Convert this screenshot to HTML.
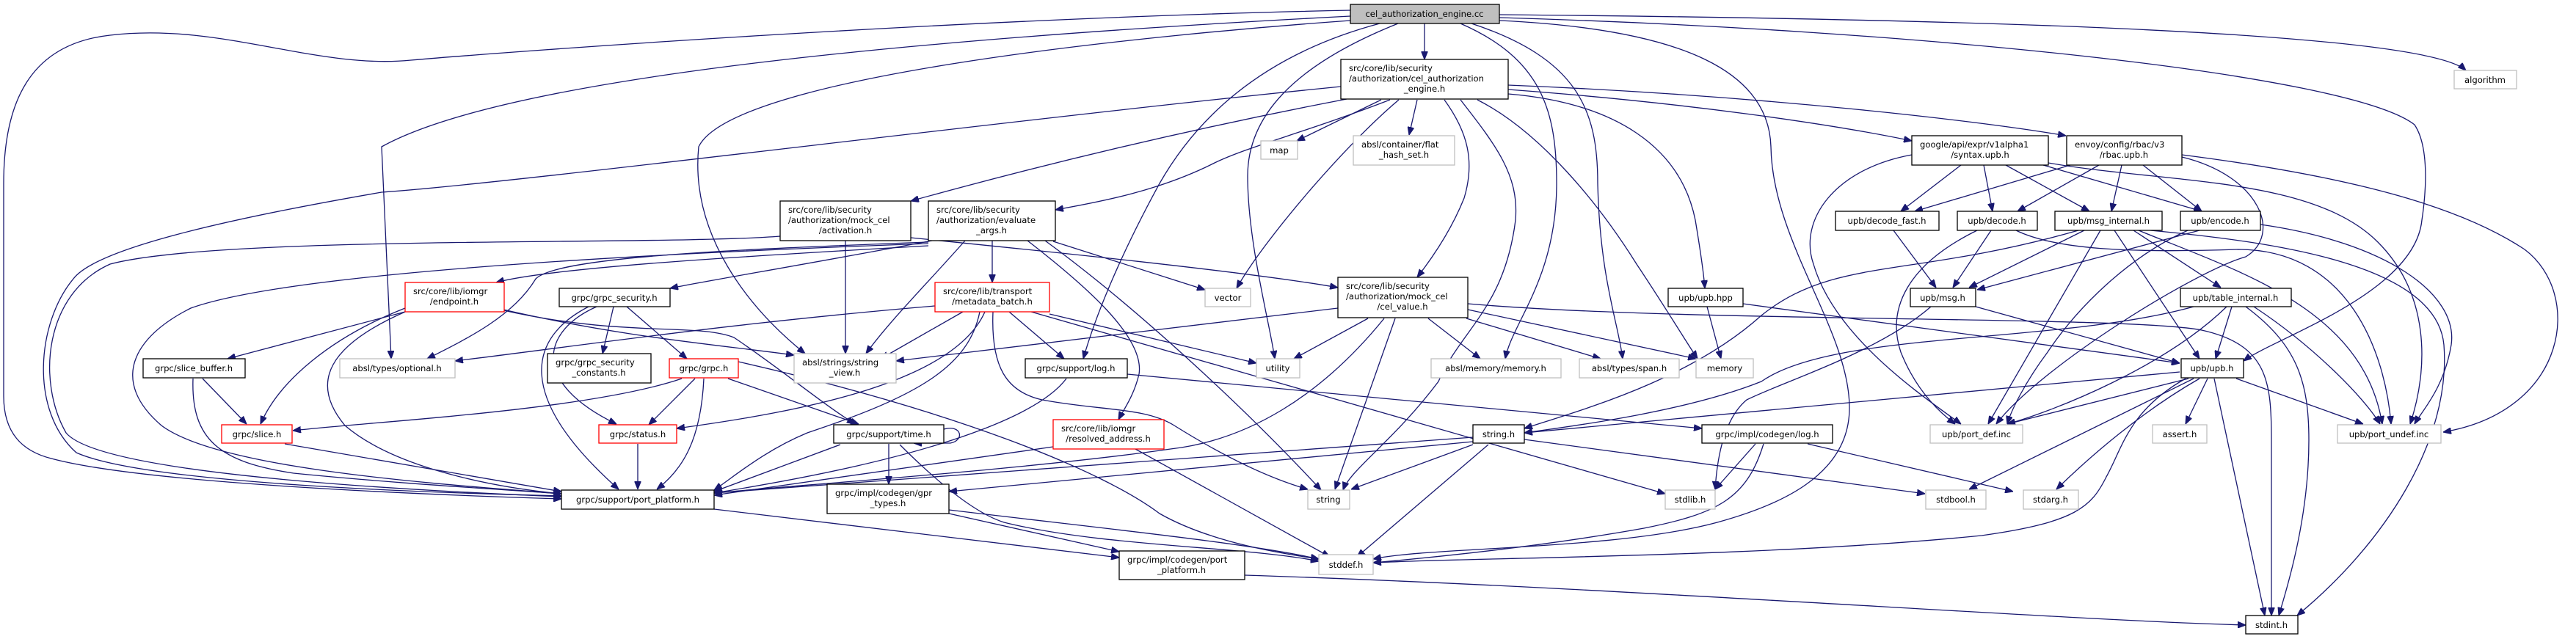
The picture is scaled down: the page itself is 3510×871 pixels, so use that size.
<!DOCTYPE html>
<html><head><meta charset="utf-8"><style>
html,body{margin:0;padding:0;background:#fff;}
svg{display:block;}
text{font-family:"DejaVu Sans","Liberation Sans",sans-serif;font-size:11.6px;fill:#000;}
.e{fill:none;stroke:#191970;stroke-width:1.3;marker-end:url(#a);}
.n{fill:#fff;stroke:#000;stroke-width:1.3;}
.g{fill:#fff;stroke:#bfbfbf;stroke-width:1.3;}
.r{fill:#fff;stroke:#ff0000;stroke-width:1.3;}
.c{text-anchor:middle;}
</style></head><body>
<svg width="3510" height="871" viewBox="0 0 3510 871" xmlns="http://www.w3.org/2000/svg">
<defs><marker id="a" viewBox="0 0 10 8" refX="10" refY="4" markerWidth="11" markerHeight="9" markerUnits="userSpaceOnUse" orient="auto"><path d="M0,0 L10,4 L0,8 z" fill="#191970" stroke="#191970"/></marker></defs>
<rect width="3510" height="871" fill="#fff"/>
<g>
<!-- cel.cc edges -->
<path class="e" d="M1840,14 C1300,25 700,70 560,82 C430,95 300,30 150,48 C40,60 5,140 5,250 L5,540 C5,590 30,615 70,625 C200,660 600,675 765,680"/>
<path class="e" d="M1840,22 C1300,50 700,100 520,200 L533,489"/>
<path class="e" d="M1840,28 C1600,45 1000,100 952,200 C940,320 1020,420 1097,482"/>
<path class="e" d="M1880,32 C1700,80 1620,180 1580,250 C1520,360 1490,440 1476,489"/>
<path class="e" d="M1905,32 C1760,90 1700,160 1700,240 C1700,330 1730,440 1737,489"/>
<path class="e" d="M1941,32 L1941,81"/>
<path class="e" d="M1990,32 C2100,80 2121,150 2121,250 C2121,380 2060,440 2051,489"/>
<path class="e" d="M2005,32 C2150,80 2177,150 2177,250 C2180,380 2205,440 2211,489"/>
<path class="e" d="M2043,28 C2300,40 2410,100 2413,200 C2415,330 2520,450 2520,556 C2520,650 2420,690 2340,712 C2200,750 1950,745 1871,762"/>
<path class="e" d="M2043,24 C2600,40 3200,100 3290,170 C3310,200 3306,260 3300,300 C3290,400 3100,460 3057,492"/>
<path class="e" d="M2043,20 C2600,25 3300,40 3360,96"/>
<!-- engine.h edges -->
<path class="e" d="M1827,118 C1400,160 700,250 520,262 C300,300 130,340 100,380 C50,440 40,560 104,617 C200,660 600,672 765,676"/>
<path class="e" d="M1835,135 C1600,180 1400,230 1241,274"/>
<path class="e" d="M1894,136 C1780,180 1700,200 1655,222 C1580,260 1500,275 1438,286"/>
<path class="e" d="M1882,136 L1767,192"/>
<path class="e" d="M1931,136 L1920,184"/>
<path class="e" d="M1906,136 C1830,200 1720,330 1685,393"/>
<path class="e" d="M1968,136 C2000,180 2010,220 1995,270 C1975,320 1945,360 1931,378"/>
<path class="e" d="M1990,136 C2040,200 2070,240 2065,300 C2050,420 1990,450 1960,520 C1900,600 1840,640 1830,668"/>
<path class="e" d="M2013,136 C2100,180 2180,280 2230,360 C2270,420 2300,470 2313,489"/>
<path class="e" d="M2055,128 C2200,140 2290,200 2310,300 C2320,360 2322,380 2323,393"/>
<path class="e" d="M2055,122 C2300,140 2500,170 2605,192"/>
<path class="e" d="M2055,116 C2400,130 2700,165 2815,185"/>
<!-- activation -->
<path class="e" d="M1152,328 L1152,482"/>
<path class="e" d="M1063,322 C900,335 300,320 150,360 C60,400 50,520 90,590 C140,650 600,670 765,677"/>
<path class="e" d="M1241,324 C1400,340 1700,370 1823,392"/>
<!-- evaluate_args -->
<path class="e" d="M1352,328 L1352,385"/>
<path class="e" d="M1265,335 C1000,350 750,365 676,385"/>
<path class="e" d="M1270,328 C1100,360 950,385 913,393"/>
<path class="e" d="M1265,330 C1000,340 760,350 730,380 C700,430 640,460 582,489"/>
<path class="e" d="M1315,328 C1260,390 1210,440 1180,482"/>
<path class="e" d="M1265,332 C900,345 400,370 260,420 C180,460 150,520 220,580 C300,640 600,660 765,673"/>
<path class="e" d="M1435,329 L1642,395"/>
<path class="e" d="M1424,328 C1550,420 1700,560 1800,668"/>
<path class="e" d="M1400,328 C1480,390 1560,460 1552,510 C1545,540 1530,560 1524,572"/>
<!-- endpoint -->
<path class="e" d="M552,425 L310,489"/>
<path class="e" d="M552,420 C450,460 380,520 355,578"/>
<path class="e" d="M552,425 C450,470 420,520 470,580 C540,640 680,665 765,673"/>
<path class="e" d="M686,422 C850,460 980,470 1082,484"/>
<path class="e" d="M686,423 C850,460 950,440 1000,460 C1060,500 1120,550 1165,578"/>
<!-- grpc_security -->
<path class="e" d="M836,418 L821,482"/>
<path class="e" d="M854,418 L936,489"/>
<path class="e" d="M813,418 C740,450 720,520 840,578"/>
<path class="e" d="M802,418 C720,460 700,540 843,667"/>
<!-- grpc.h -->
<path class="e" d="M929,516 C800,560 500,575 399,587"/>
<path class="e" d="M947,516 L884,579"/>
<path class="e" d="M959,516 C955,600 930,640 895,667"/>
<path class="e" d="M992,516 L1170,578"/>
<path class="e" d="M1006,493 C1300,560 1500,640 1580,700 C1650,740 1750,755 1797,762"/>
<!-- slice_buffer/slice/status/time -->
<path class="e" d="M276,516 L336,578"/>
<path class="e" d="M263,516 C260,600 300,630 400,645 C550,660 700,668 765,673"/>
<path class="e" d="M388,605 L765,670"/>
<path class="e" d="M869,605 L869,667"/>
<path class="e" d="M1145,606 L973,670"/>
<path class="e" d="M1286,585 C1310,578 1315,600 1295,604 L1245,604"/>
<path class="e" d="M1211,605 L1211,660"/>
<path class="e" d="M1226,606 C1280,660 1330,700 1368,712 C1500,745 1700,745 1797,765"/>
<path class="e" d="M1293,700 L1525,752"/>
<path class="e" d="M1293,695 C1500,720 1700,740 1797,762"/>
<path class="e" d="M973,694 L1525,760"/>
<path class="e" d="M1696,784 C2200,800 2800,845 3060,852"/>
<!-- metadata_batch -->
<path class="e" d="M1274,417 C1000,440 800,470 620,492"/>
<path class="e" d="M1312,425 L1200,489"/>
<path class="e" d="M1342,425 C1300,520 1100,560 922,584"/>
<path class="e" d="M1335,425 C1320,500 1250,540 1100,590 C1040,615 1000,650 973,668"/>
<path class="e" d="M1375,425 L1450,489"/>
<path class="e" d="M1430,428 L1712,495"/>
<path class="e" d="M1405,425 L2269,673"/>
<path class="e" d="M1353,425 C1350,500 1371,534 1420,545 C1500,560 1560,555 1600,580 C1680,630 1740,655 1782,667"/>
<!-- cel_value -->
<path class="e" d="M1823,420 L1221,492"/>
<path class="e" d="M1864,434 L1763,489"/>
<path class="e" d="M1946,434 L2017,489"/>
<path class="e" d="M1998,434 L2181,489"/>
<path class="e" d="M2000,422 L2311,489"/>
<path class="e" d="M1901,434 L1819,667"/>
<path class="e" d="M1886,434 C1800,540 1700,600 1595,612 C1400,640 1100,660 973,672"/>
<path class="e" d="M2000,414 C2300,440 2900,430 3000,450 C3090,470 3095,520 3095,600 L3095,839"/>
<!-- upb.hpp -->
<path class="e" d="M2326,418 L2345,489"/>
<path class="e" d="M2375,414 L2970,495"/>
<!-- log.h -->
<path class="e" d="M1536,510 L2319,584"/>
<path class="e" d="M1453,516 C1420,560 1300,620 973,672"/>
<path class="e" d="M1435,609 L973,675"/>
<path class="e" d="M1547,612 L1812,759"/>
<!-- string.h -->
<path class="e" d="M2007,606 L1841,667"/>
<path class="e" d="M2028,606 L1849,759"/>
<path class="e" d="M2007,596 L973,672"/>
<path class="e" d="M2007,602 L1293,670"/>
<path class="e" d="M2077,599 L2623,673"/>
<!-- codegen log -->
<path class="e" d="M2392,605 L2337,667"/>
<path class="e" d="M2463,605 L2743,670"/>
<path class="e" d="M2403,605 C2380,680 2340,700 2240,720 C2100,745 1950,760 1871,767"/>
<!-- syntax / rbac -->
<path class="e" d="M2672,225 L2590,288"/>
<path class="e" d="M2703,225 L2715,288"/>
<path class="e" d="M2733,225 L2847,288"/>
<path class="e" d="M2784,225 L3000,288"/>
<path class="e" d="M2605,211 C2500,230 2450,300 2471,360 C2500,460 2620,540 2672,578"/>
<path class="e" d="M2791,222 C2950,250 3150,240 3240,330 C3310,400 3310,500 3284,578"/>
<path class="e" d="M2821,225 L2609,288"/>
<path class="e" d="M2860,225 L2749,288"/>
<path class="e" d="M2891,225 L2877,288"/>
<path class="e" d="M2920,225 L3000,288"/>
<path class="e" d="M2973,214 C3080,240 3110,320 3060,350 C2990,370 2780,500 2720,578"/>
<path class="e" d="M2973,211 C3200,240 3350,280 3440,340 C3520,400 3500,560 3329,589"/>
<!-- decode etc -->
<path class="e" d="M2580,314 L2638,392"/>
<path class="e" d="M2713,314 L2661,392"/>
<path class="e" d="M2694,314 C2600,360 2570,420 2590,480 C2610,530 2640,560 2664,578"/>
<path class="e" d="M2747,314 C2800,340 2900,345 3050,340 C3200,340 3250,480 3258,578"/>
<path class="e" d="M2840,314 L2683,392"/>
<path class="e" d="M2862,314 L2709,578"/>
<path class="e" d="M2881,314 L2997,489"/>
<path class="e" d="M2907,314 L3026,392"/>
<path class="e" d="M2914,314 C3050,370 3220,420 3246,578"/>
<path class="e" d="M2832,314 C2600,380 2500,350 2400,430 C2300,520 2150,560 2077,584"/>
<path class="e" d="M2930,314 C3100,330 3320,360 3330,470 C3340,600 3250,740 3130,839"/>
<path class="e" d="M2997,314 L2694,395"/>
<path class="e" d="M2981,314 C2900,350 2830,420 2790,480 C2760,520 2740,560 2735,578"/>
<path class="e" d="M3080,306 C3250,330 3350,400 3340,470 C3330,530 3300,560 3290,578"/>
<path class="e" d="M2692,418 L2970,495"/>
<path class="e" d="M2631,418 C2560,480 2430,520 2380,545 C2350,570 2340,620 2337,667"/>
<path class="e" d="M3041,418 L3019,489"/>
<path class="e" d="M3034,418 C2950,500 2800,560 2735,578"/>
<path class="e" d="M3071,418 C3150,470 3220,540 3243,578"/>
<path class="e" d="M3060,418 C3130,470 3146,520 3146,600 C3146,700 3120,790 3105,839"/>
<path class="e" d="M2989,418 C2800,470 2500,450 2400,520 C2300,560 2150,580 2077,590"/>
<!-- upb.h -->
<path class="e" d="M2982,516 L2735,578"/>
<path class="e" d="M3008,516 L2978,578"/>
<path class="e" d="M3047,516 L3220,578"/>
<path class="e" d="M2989,516 C2900,560 2820,600 2683,667"/>
<path class="e" d="M2997,516 C2920,560 2850,620 2802,667"/>
<path class="e" d="M3017,516 L3086,839"/>
<path class="e" d="M2970,507 L2077,590"/>
<path class="e" d="M2978,516 C2900,560 2892,611 2870,650 C2850,690 2830,712 2700,730 C2400,760 2000,760 1871,767"/>
</g>
<g>
<rect class="n" x="1840" y="6" width="203" height="26" style="fill:#bfbfbf"/><text class="c" x="1941" y="23">cel_authorization_engine.cc</text>
<rect class="n" x="1827" y="81" width="228" height="54"/><text x="1838" y="97">src/core/lib/security</text><text x="1838" y="111">/authorization/cel_authorization</text><text class="c" x="1941" y="125">_engine.h</text>
<rect class="g" x="1718" y="192" width="50" height="25"/><text class="c" x="1743" y="209">map</text>
<rect class="g" x="1844" y="185" width="138" height="40"/><text x="1855" y="201">absl/container/flat</text><text class="c" x="1913" y="215">_hash_set.h</text>
<rect class="n" x="2605" y="185" width="186" height="40"/><text x="2616" y="201">google/api/expr/v1alpha1</text><text class="c" x="2698" y="215">/syntax.upb.h</text>
<rect class="n" x="2816" y="185" width="157" height="40"/><text x="2827" y="201">envoy/config/rbac/v3</text><text class="c" x="2894" y="215">/rbac.upb.h</text>
<rect class="g" x="3344" y="96" width="85" height="25"/><text class="c" x="3386" y="113">algorithm</text>
<rect class="n" x="1063" y="274" width="178" height="54"/><text x="1074" y="290">src/core/lib/security</text><text x="1074" y="304">/authorization/mock_cel</text><text class="c" x="1152" y="318">/activation.h</text>
<rect class="n" x="1265" y="274" width="173" height="54"/><text x="1276" y="290">src/core/lib/security</text><text x="1276" y="304">/authorization/evaluate</text><text class="c" x="1351" y="318">_args.h</text>
<rect class="n" x="2501" y="288" width="141" height="26"/><text class="c" x="2571" y="305">upb/decode_fast.h</text>
<rect class="n" x="2667" y="288" width="109" height="26"/><text class="c" x="2721" y="305">upb/decode.h</text>
<rect class="n" x="2800" y="288" width="146" height="26"/><text class="c" x="2873" y="305">upb/msg_internal.h</text>
<rect class="n" x="2971" y="288" width="109" height="26"/><text class="c" x="3025" y="305">upb/encode.h</text>
<rect class="r" x="552" y="385" width="135" height="40"/><text x="563" y="401">src/core/lib/iomgr</text><text class="c" x="619" y="415">/endpoint.h</text>
<rect class="n" x="762" y="393" width="151" height="25"/><text class="c" x="837" y="410">grpc/grpc_security.h</text>
<rect class="r" x="1274" y="385" width="156" height="40"/><text x="1285" y="401">src/core/lib/transport</text><text class="c" x="1352" y="415">/metadata_batch.h</text>
<rect class="g" x="1642" y="393" width="62" height="25"/><text class="c" x="1673" y="410">vector</text>
<rect class="n" x="1823" y="378" width="177" height="55"/><text x="1834" y="394">src/core/lib/security</text><text x="1834" y="408">/authorization/mock_cel</text><text class="c" x="1911" y="422">/cel_value.h</text>
<rect class="n" x="2273" y="393" width="102" height="25"/><text class="c" x="2324" y="410">upb/upb.hpp</text>
<rect class="n" x="2603" y="393" width="89" height="25"/><text class="c" x="2647" y="410">upb/msg.h</text>
<rect class="n" x="2971" y="393" width="151" height="25"/><text class="c" x="3046" y="410">upb/table_internal.h</text>
<rect class="n" x="195" y="489" width="139" height="26"/><text class="c" x="264" y="506">grpc/slice_buffer.h</text>
<rect class="g" x="463" y="489" width="157" height="26"/><text class="c" x="541" y="506">absl/types/optional.h</text>
<rect class="n" x="746" y="482" width="141" height="40"/><text x="757" y="498">grpc/grpc_security</text><text class="c" x="816" y="512">_constants.h</text>
<rect class="r" x="912" y="489" width="94" height="26"/><text class="c" x="959" y="506">grpc/grpc.h</text>
<rect class="g" x="1082" y="482" width="139" height="40"/><text x="1093" y="498">absl/strings/string</text><text class="c" x="1151" y="512">_view.h</text>
<rect class="n" x="1397" y="489" width="139" height="26"/><text class="c" x="1466" y="506">grpc/support/log.h</text>
<rect class="g" x="1712" y="489" width="59" height="26"/><text class="c" x="1741" y="506">utility</text>
<rect class="g" x="1950" y="489" width="177" height="26"/><text class="c" x="2038" y="506">absl/memory/memory.h</text>
<rect class="g" x="2152" y="489" width="136" height="26"/><text class="c" x="2220" y="506">absl/types/span.h</text>
<rect class="g" x="2311" y="489" width="78" height="26"/><text class="c" x="2350" y="506">memory</text>
<rect class="n" x="2972" y="489" width="85" height="26"/><text class="c" x="3014" y="506">upb/upb.h</text>
<rect class="r" x="302" y="579" width="96" height="25"/><text class="c" x="350" y="596">grpc/slice.h</text>
<rect class="r" x="816" y="579" width="106" height="25"/><text class="c" x="869" y="596">grpc/status.h</text>
<rect class="n" x="1136" y="579" width="150" height="25"/><text class="c" x="1211" y="596">grpc/support/time.h</text>
<rect class="r" x="1435" y="572" width="151" height="40"/><text x="1446" y="588">src/core/lib/iomgr</text><text class="c" x="1510" y="602">/resolved_address.h</text>
<rect class="n" x="2007" y="579" width="70" height="25"/><text class="c" x="2042" y="596">string.h</text>
<rect class="n" x="2319" y="579" width="178" height="25"/><text class="c" x="2408" y="596">grpc/impl/codegen/log.h</text>
<rect class="g" x="2630" y="579" width="126" height="25"/><text class="c" x="2693" y="596">upb/port_def.inc</text>
<rect class="g" x="2933" y="579" width="74" height="25"/><text class="c" x="2970" y="596">assert.h</text>
<rect class="g" x="3185" y="579" width="141" height="25"/><text class="c" x="3255" y="596">upb/port_undef.inc</text>
<rect class="n" x="765" y="668" width="208" height="26"/><text class="c" x="869" y="685">grpc/support/port_platform.h</text>
<rect class="n" x="1127" y="660" width="166" height="40"/><text x="1138" y="676">grpc/impl/codegen/gpr</text><text class="c" x="1210" y="690">_types.h</text>
<rect class="g" x="1782" y="668" width="57" height="26"/><text class="c" x="1810" y="685">string</text>
<rect class="g" x="2269" y="668" width="68" height="26"/><text class="c" x="2303" y="685">stdlib.h</text>
<rect class="g" x="2624" y="668" width="82" height="26"/><text class="c" x="2665" y="685">stdbool.h</text>
<rect class="g" x="2757" y="668" width="75" height="26"/><text class="c" x="2794" y="685">stdarg.h</text>
<rect class="n" x="1525" y="751" width="171" height="39"/><text x="1536" y="767">grpc/impl/codegen/port</text><text class="c" x="1610" y="781">_platform.h</text>
<rect class="g" x="1797" y="756" width="74" height="27"/><text class="c" x="1834" y="774">stddef.h</text>
<rect class="n" x="3060" y="839" width="71" height="25"/><text class="c" x="3095" y="856">stdint.h</text>
</g>
</svg>
</body></html>
